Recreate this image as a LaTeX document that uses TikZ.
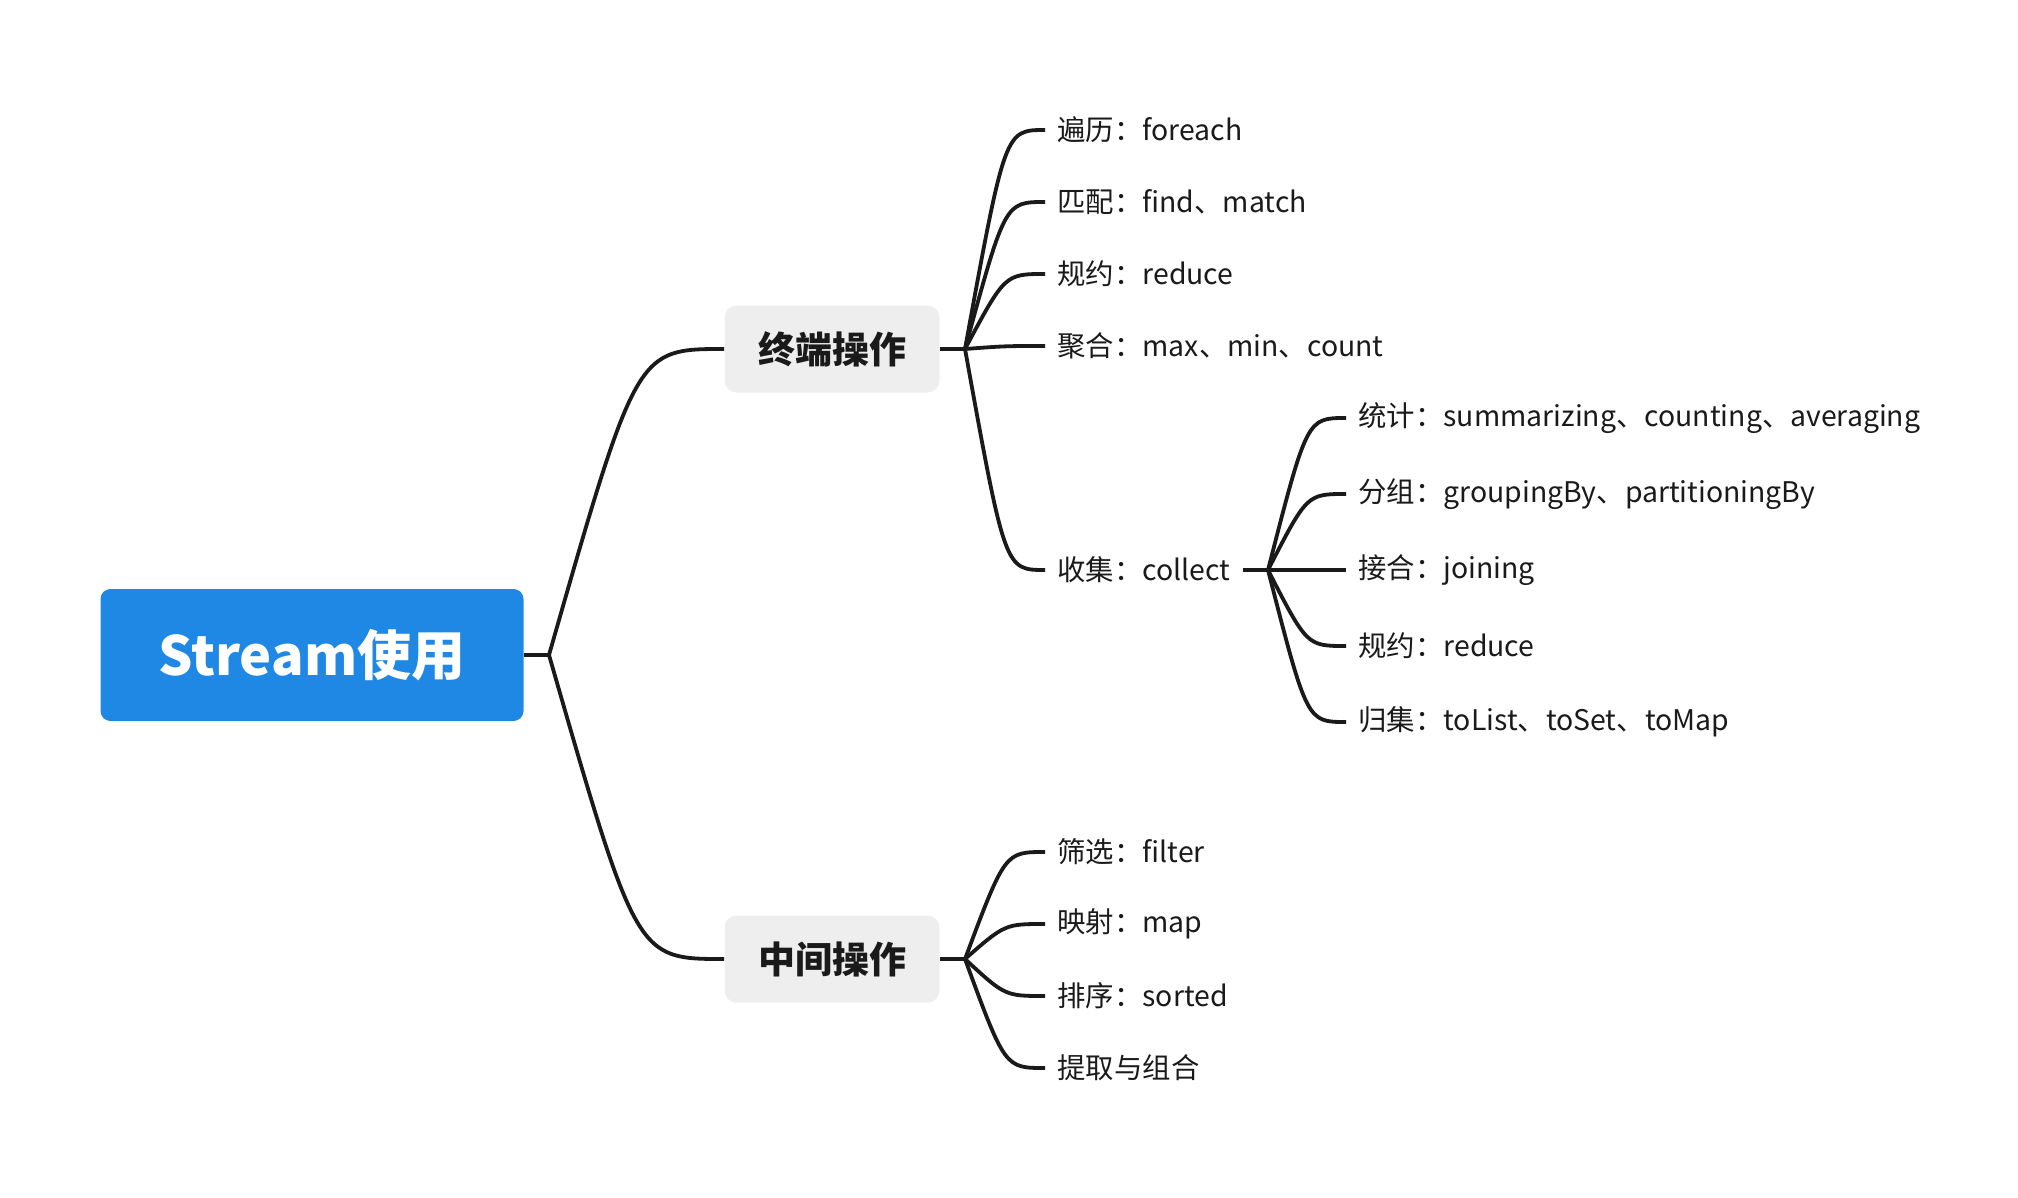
\documentclass[tikz,border=0pt]{standalone}
\usepackage{fontspec}
\setmainfont{Noto Sans CJK SC}
\usetikzlibrary{calc}
\definecolor{rootblue}{HTML}{1F88E5}
\definecolor{boxgray}{HTML}{EEEEEE}
\definecolor{ink}{HTML}{1A1A1A}
\newcommand{\twig}[2]{\draw[link] (#1) .. controls ($(#1 |- #2.west)!0.5!(#2.west)$) .. (#2.west);}

\begin{document}
\begin{tikzpicture}[x=0.5pt, y=-0.5pt,
    root/.style={fill=rootblue, rounded corners=5pt, minimum width=211.5pt, minimum height=66pt, inner sep=0pt, text=white, font=\bfseries\fontsize{27}{32}\selectfont},
    main/.style={fill=boxgray, rounded corners=6pt, minimum width=107.5pt, minimum height=43.5pt, inner sep=0pt, text=ink, font=\bfseries\fontsize{18.5}{22}\selectfont},
    leaf/.style={anchor=west, inner xsep=6pt, inner ysep=2pt, text=ink, font=\fontsize{14.2}{17}\selectfont},
    link/.style={draw=ink, line width=1.9pt}]
    \useasboundingbox (0,0) rectangle (2018,1198);

    % Root
    \node[root] (stream) at (312,655) {Stream使用};
    \coordinate (rfork) at (549,655);

    \node[main] (term) at (832,349) {终端操作};
    \node[main] (mid) at (832,959) {中间操作};
    \coordinate (tfork) at (965,349);
    \coordinate (mfork) at (965,959);

    % Terminal operations
    \node[leaf] (each) at (1045,130) {遍历：foreach};
    \node[leaf] (match) at (1045,202) {匹配：find、match};
    \node[leaf] (reduce) at (1045,274) {规约：reduce};
    \node[leaf] (agg) at (1045,346) {聚合：max、min、count};
    \node[leaf] (collect) at (1045,570) {收集：collect};
    \coordinate (cfork) at (1268,570);

    % Collectors
    \node[leaf] (stat) at (1346,418) {统计：summarizing、counting、averaging};
    \node[leaf] (group) at (1346,494) {分组：groupingBy、partitioningBy};
    \node[leaf] (join) at (1346,570) {接合：joining};
    \node[leaf] (creduce) at (1346,646) {规约：reduce};
    \node[leaf] (tolist) at (1346,722) {归集：toList、toSet、toMap};

    % Intermediate operations
    \node[leaf] (filter) at (1045,852) {筛选：filter};
    \node[leaf] (map) at (1045,924) {映射：map};
    \node[leaf] (sorted) at (1045,996) {排序：sorted};
    \node[leaf] (combine) at (1045,1068) {提取与组合};

    % Connectors
    \draw[link] (stream.east) -- (rfork);
    \twig{rfork}{term}
    \twig{rfork}{mid}

    \draw[link] (term.east) -- (tfork);
    \twig{tfork}{each}
    \twig{tfork}{match}
    \twig{tfork}{reduce}
    \twig{tfork}{agg}
    \twig{tfork}{collect}

    \draw[link] (collect.east) -- (cfork);
    \twig{cfork}{stat}
    \twig{cfork}{group}
    \twig{cfork}{join}
    \twig{cfork}{creduce}
    \twig{cfork}{tolist}

    \draw[link] (mid.east) -- (mfork);
    \twig{mfork}{filter}
    \twig{mfork}{map}
    \twig{mfork}{sorted}
    \twig{mfork}{combine}

\end{tikzpicture}
\end{document}
